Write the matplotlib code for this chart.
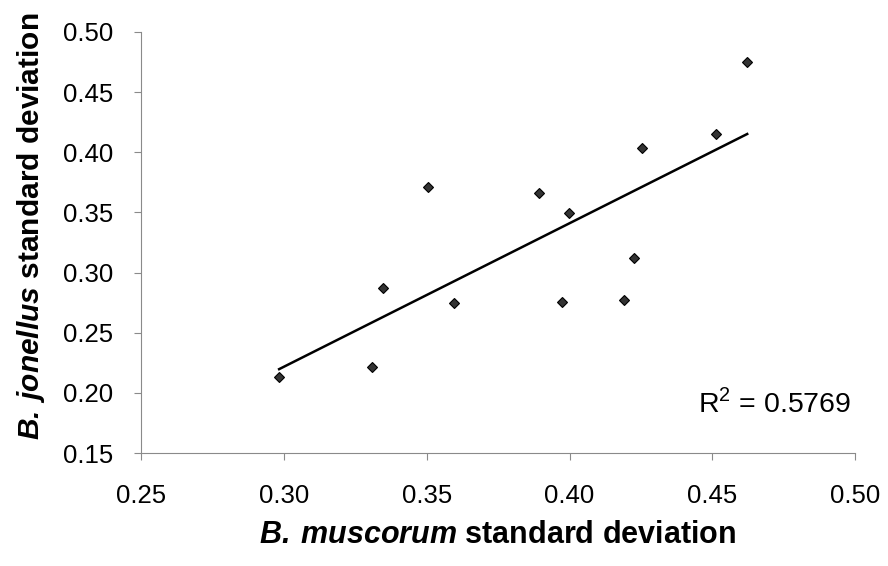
import numpy as np
import matplotlib.pyplot as plt

plt.rcParams['font.family'] = ['Liberation Sans', 'DejaVu Sans']
plt.rcParams['mathtext.fontset'] = 'custom'
plt.rcParams['mathtext.rm'] = 'Liberation Sans'
plt.rcParams['mathtext.bfit'] = 'Liberation Sans:bold:italic'

# standard deviations per site
muscorum_sd = [0.2983, 0.3308, 0.3346, 0.3503, 0.3594, 0.3892, 0.3997,
               0.3972, 0.4189, 0.4224, 0.4252, 0.4514, 0.4622]
jonellus_sd = [0.2132, 0.2215, 0.2872, 0.3711, 0.2747, 0.3661, 0.3495,
               0.2755, 0.2772, 0.3121, 0.4035, 0.4151, 0.4749]
r_squared = 0.5769

x_ticks = [0.25, 0.30, 0.35, 0.40, 0.45, 0.50]
y_ticks = [0.15, 0.20, 0.25, 0.30, 0.35, 0.40, 0.45, 0.50]

x = np.array(muscorum_sd)
y = np.array(jonellus_sd)

# linear trend line over the range of the data
slope, intercept = np.polyfit(x, y, 1)
x_fit = np.array([x.min(), x.max()])
y_fit = slope * x_fit + intercept

fig = plt.figure(figsize=(8.88, 5.66), dpi=100)
ax = fig.add_axes([0.159, 0.1996, 0.804, 0.744])

ax.plot(x_fit, y_fit, color='black', linewidth=1.8)
ax.plot(x, y, linestyle='none', marker='D', markersize=5,
        markerfacecolor='#333333', markeredgecolor='black', markeredgewidth=0.8)

ax.set_xlim(0.25, 0.50)
ax.set_ylim(0.15, 0.50)
ax.set_xticks(x_ticks)
ax.set_yticks(y_ticks)
ax.set_xticklabels([f'{v:.2f}' for v in x_ticks])
ax.set_yticklabels([f'{v:.2f}' for v in y_ticks])

for side in ['top', 'right']:
    ax.spines[side].set_visible(False)
for side in ['left', 'bottom']:
    ax.spines[side].set_color('#8a8a8a')
    ax.spines[side].set_linewidth(0.8)

ax.tick_params(axis='both', direction='out', length=5, width=0.8,
               color='#8a8a8a', labelsize=18.5, labelcolor='black')
ax.tick_params(axis='x', pad=17)
ax.tick_params(axis='y', pad=15)

ax.set_xlabel(r'$\mathbfit{B.\,muscorum}$ standard deviation',
              fontsize=22, fontweight='bold', va='center')
ax.set_ylabel(r'$\mathbfit{B.\,jonellus}$ standard deviation',
              fontsize=21.5, fontweight='bold', va='center')
ax.xaxis.set_label_coords(0.499, -0.195)
ax.yaxis.set_label_coords(-0.155, 0.539)

ax.text(0.4985, 0.184, 'R$^2$ = ' + f'{r_squared:.4f}', fontsize=20.5,
        ha='right', va='baseline')

fig.savefig('out.png', dpi=100)
